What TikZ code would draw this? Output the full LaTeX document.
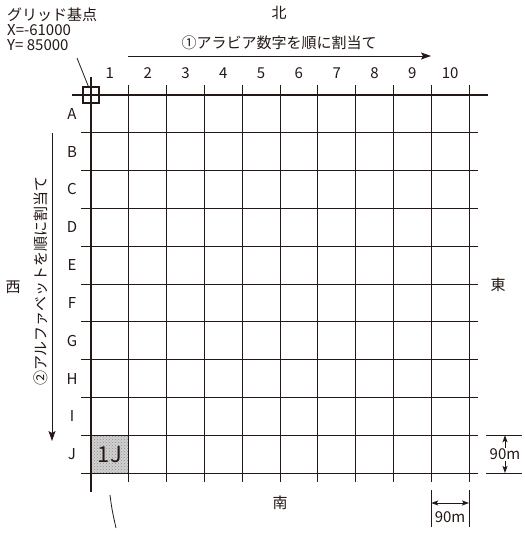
\documentclass[tikz,border=0pt]{standalone}
\usepackage{fontspec}
\setmainfont{Noto Sans CJK JP}
\usetikzlibrary{arrows.meta,patterns}
\definecolor{ink}{RGB}{35,24,21}
\begin{document}
\begin{tikzpicture}[x=1pt,y=-1pt,
  every node/.style={text=ink, inner sep=0pt},
  lbl/.style={font=\fontsize{15}{15}\selectfont},
  thinline/.style={draw=ink, line width=0.9pt},
  boldline/.style={draw=ink, line width=2.6pt},
  bigarrow/.style={draw=ink, line width=0.9pt, -{Stealth[length=10pt,width=7pt,inset=2pt]}},
  dimarrow/.style={draw=ink, line width=0.9pt, {Stealth[length=7pt,width=5pt,inset=1.5pt]}-{Stealth[length=7pt,width=5pt,inset=1.5pt]}}]
\useasboundingbox (0,0) rectangle (524,534);
\fill[white] (0,0) rectangle (524,534);
\def\cs{37.8}
% shaded cell 1J
\fill[black!18] (91,{95+9*\cs}) rectangle ({91+\cs},{95+10*\cs});
\fill[pattern=crosshatch dots, pattern color=black!45] (91,{95+9*\cs}) rectangle ({91+\cs},{95+10*\cs});
% grid lines
\foreach \k in {1,...,10} {
  \draw[thinline] ({91+\k*\cs},85) -- ({91+\k*\cs},482);
  \draw[thinline] (81,{95+\k*\cs}) -- (478,{95+\k*\cs});
}
\draw[boldline] (91,77) -- (91,492);
\draw[boldline] (72,95) -- (488,95);
% origin square
\draw[draw=ink, line width=1.6pt] (83,87) rectangle (99,103);
\coordinate (origin) at (89,88);
% column numbers
\foreach \k/\t in {1/1,2/2,3/3,4/4,5/5,6/6,7/7,8/8,9/9,10/10} {
  \node[lbl] (col\k) at ({91+(\k-0.5)*\cs},73) {\t};
}
% row letters
\foreach \k/\t in {1/A,2/B,3/C,4/D,5/E,6/F,7/G,8/H,9/I,10/J} {
  \node[lbl] (row\k) at (72,{95+(\k-0.5)*\cs}) {\t};
}
% 1J label
\node[font=\fontsize{22}{22}\selectfont] (cell1J) at ({91+0.5*\cs},{95+9.5*\cs}) {1J};
% grid base label
\node[lbl, anchor=west, align=left] (gridbase) at (7,29) {グリッド基点\\X=-61000\\Y= 85000};
\coordinate (leadtop) at (77,58);
\draw[thinline, line width=0.8pt] (leadtop) -- (origin);
% directions
\node[lbl] (north) at (279,13) {北};
\node[lbl] (south) at (280,503) {南};
\node[lbl] (west) at (13,287) {西};
\node[lbl] (east) at (498,285) {東};
% top assignment arrow
\node[lbl] (arabic) at (279,43) {①アラビア数字を順に割当て};
\coordinate (arA) at (128,56);
\coordinate (arB) at (431,56);
\draw[bigarrow] (arA) -- (arB);
% vertical assignment arrow
\node[lbl, rotate=90] (alpha) at (41,281) {②アルファベットを順に割当て};
\coordinate (avA) at (52,133);
\coordinate (avB) at (52,441);
\draw[bigarrow] (avA) -- (avB);
% vertical dimension
\draw[thinline] (486,{95+9*\cs}) -- (522,{95+9*\cs});
\draw[thinline] (486,{95+10*\cs}) -- (522,{95+10*\cs});
\coordinate (dvA) at (505,{95+9*\cs});
\coordinate (dvB) at (505,{95+10*\cs});
\draw[dimarrow] (dvA) -- (dvB) node[midway, lbl, fill=white, inner sep=1pt] (dimv) {90m};
% horizontal dimension
\coordinate (dhA) at ({91+9*\cs},503);
\coordinate (dhB) at ({91+10*\cs},503);
\draw[thinline] ({91+9*\cs},490) -- ({91+9*\cs},527);
\draw[thinline] ({91+10*\cs},490) -- ({91+10*\cs},527);
\draw[dimarrow] (dhA) -- (dhB);
\node[lbl] (dimh) at ({91+9.5*\cs},517) {90m};
% bottom leader curve
\coordinate (curveA) at (110,495);
\coordinate (curveB) at (116,528);
\draw[thinline, line width=0.8pt] (curveA) .. controls (112,510) .. (curveB);
\end{tikzpicture}
\end{document}
